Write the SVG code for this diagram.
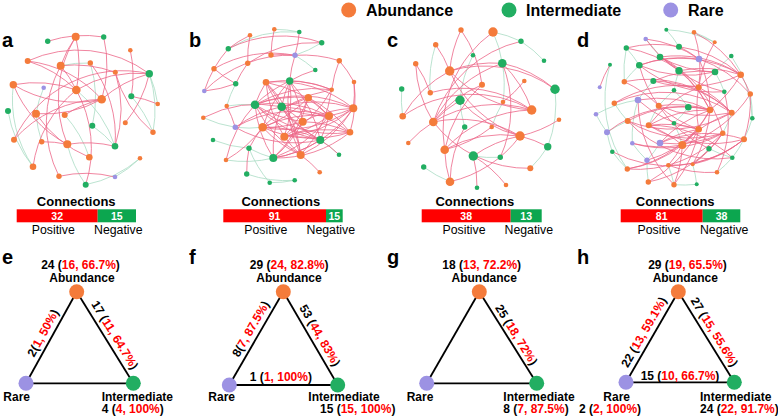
<svg xmlns="http://www.w3.org/2000/svg" width="778" height="418" viewBox="0 0 778 418">
<style>
.t{font-family:"Liberation Sans",Arial,sans-serif}
.b{font-weight:bold}
.pl{font-family:"Liberation Sans",Arial,sans-serif;font-weight:bold;font-size:20px}
.lg{font-family:"Liberation Sans",Arial,sans-serif;font-weight:bold;font-size:16px}
.cn{font-family:"Liberation Sans",Arial,sans-serif;font-weight:bold;font-size:13px}
.bn{font-family:"Liberation Sans",Arial,sans-serif;font-weight:bold;font-size:10.5px;fill:#fff}
.pn{font-family:"Liberation Sans",Arial,sans-serif;font-size:12.3px}
.tl{font-family:"Liberation Sans",Arial,sans-serif;font-weight:bold;font-size:12px}
.r{fill:#ff0000}
.pe path{fill:none;stroke:#ec6688;stroke-width:0.8}
.ne path{fill:none;stroke:#a9dcc4;stroke-width:0.8}
.tri line{stroke:#000;stroke-width:1.8}
.o{fill:#f47b3b}
.g{fill:#22ae62}
.p{fill:#9c92e3}
</style>
<rect width="778" height="418" fill="#fff"/>

<g id="legend">
<circle cx="348.7" cy="10" r="7.5" class="o"/><text x="366" y="15.7" class="lg">Abundance</text>
<circle cx="509" cy="10" r="7.5" class="g"/><text x="526" y="15.7" class="lg">Intermediate</text>
<circle cx="670.7" cy="10" r="7.5" class="p"/><text x="688" y="15.7" class="lg">Rare</text>
</g>

<g id="panel-labels">
<text x="2" y="47" class="pl">a</text>
<text x="189" y="47" class="pl">b</text>
<text x="387" y="47" class="pl">c</text>
<text x="577" y="47" class="pl">d</text>
<text x="2" y="263.5" class="pl">e</text>
<text x="189" y="263.5" class="pl">f</text>
<text x="387" y="263.5" class="pl">g</text>
<text x="577" y="263.5" class="pl">h</text>
</g>

<g id="connectors">
<g class="ne" id="a-neg">
<path d="M90.3 63A120 120 0 0 1 92.3 125.7"/><path d="M13.3 84.7A120 120 0 0 0 33 166.7"/><path d="M131.3 96.3A120 120 0 0 1 153 132.3"/><path d="M67.3 144.3A120 120 0 0 0 85.7 184.7"/><path d="M85.7 184.7A120 120 0 0 0 140 158.3"/><path d="M115 177A120 120 0 0 0 140 158.3"/><path d="M92.3 125.7A120 120 0 0 1 115 146.3"/><path d="M149.3 73.7A120 120 0 0 1 157.7 104"/><path d="M36 113.7A120 120 0 0 0 41.7 141.7"/><path d="M64.7 115A120 120 0 0 1 89.3 157.3"/><path d="M43.7 87.7A120 120 0 0 0 36 113.7"/><path d="M149.3 73.7A120 120 0 0 1 153 132.3"/><path d="M76.3 90A120 120 0 0 1 115 146.3"/><path d="M60.7 65.7A120 120 0 0 1 90.3 63"/><path d="M8 111A120 120 0 0 0 33 166.7"/>
</g>
<g class="pe" id="a-pos">
<path d="M47.7 41.3A120 120 0 0 1 103.7 37"/><path d="M75.7 36.7A120 120 0 0 0 60.7 65.7"/><path d="M75.7 36.7A120 120 0 0 1 76.3 90"/><path d="M75.7 36.7A120 120 0 0 0 67.3 144.3"/><path d="M27.7 61A120 120 0 0 1 149.3 73.7"/><path d="M27.7 61A120 120 0 0 1 101.7 99.3"/><path d="M60.7 65.7A120 120 0 0 1 115.3 72.3"/><path d="M13.3 84.7A120 120 0 0 1 76.3 90"/><path d="M13.3 84.7A120 120 0 0 0 101.7 99.3"/><path d="M13.3 84.7A120 120 0 0 0 67.3 144.3"/><path d="M76.3 90A120 120 0 0 1 149.3 73.7"/><path d="M101.7 99.3A120 120 0 0 1 149.3 73.7"/><path d="M101.7 99.3A120 120 0 0 1 36 113.7"/><path d="M14 139.7A120 120 0 0 1 101.7 99.3"/><path d="M130.3 50.3A120 120 0 0 1 131.3 96.3"/><path d="M115.3 72.3A120 120 0 0 0 153 132.3"/><path d="M115.3 72.3A120 120 0 0 1 115 146.3"/><path d="M60.7 65.7A120 120 0 0 0 59 176.3"/><path d="M76.3 90A120 120 0 0 0 33 166.7"/><path d="M36 113.7A120 120 0 0 0 89.3 157.3"/><path d="M41.7 141.7A120 120 0 0 1 67.3 144.3"/><path d="M59 176.3A120 120 0 0 1 115 177"/><path d="M131.3 96.3A120 120 0 0 1 157.7 104"/><path d="M14 139.7A120 120 0 0 1 149.3 73.7"/><path d="M64.7 115A120 120 0 0 1 101.7 99.3"/><path d="M90.3 63A120 120 0 0 1 115 146.3"/><path d="M60.7 65.7A120 120 0 0 1 76.3 90"/><path d="M76.3 90A120 120 0 0 1 85.7 184.7"/><path d="M27.7 61A120 120 0 0 1 76.3 90"/><path d="M103.7 37A120 120 0 0 1 101.7 99.3"/><path d="M125.3 122.7A120 120 0 0 0 149.3 73.7"/><path d="M67.3 144.3A120 120 0 0 1 115 146.3"/>
</g>

<g class="ne" id="b-neg">
<path d="M299.3 32A120 120 0 0 0 228.3 48.7"/><path d="M295 55.3A120 120 0 0 1 315.3 70"/><path d="M321.7 42.7A120 120 0 0 1 295 55.3"/><path d="M226.7 106A120 120 0 0 1 255 104.7"/><path d="M203.3 117.7A120 120 0 0 0 235.3 127.3"/><path d="M213 140A120 120 0 0 0 249 148.3"/><path d="M249 148.3A120 120 0 0 0 273.3 158"/><path d="M226 160A120 120 0 0 0 273.3 158"/><path d="M246.7 174A120 120 0 0 0 294.7 180.3"/><path d="M269.7 182.7A120 120 0 0 0 294.7 180.3"/><path d="M235.3 127.3A120 120 0 0 0 262.7 127.3"/><path d="M235.7 83.7A120 120 0 0 0 226.7 106"/><path d="M274.3 29.3A120 120 0 0 1 299.3 32"/><path d="M249 148.3A120 120 0 0 0 269.7 182.7"/><path d="M320.3 140A120 120 0 0 1 339 154.7"/>
</g>
<g class="pe" id="b-pos">
<path d="M250 35.3A120 120 0 0 0 247.7 63.3"/><path d="M228.3 48.7A120 120 0 0 0 214 68.7"/><path d="M228.3 48.7A120 120 0 0 1 321.7 42.7"/><path d="M214 68.7A120 120 0 0 1 295 55.3"/><path d="M247.7 63.3A120 120 0 0 1 321.7 42.7"/><path d="M271 55A120 120 0 0 1 295 55.3"/><path d="M295 55.3A120 120 0 0 1 339.3 60.7"/><path d="M295 55.3A120 120 0 0 0 289.7 81"/><path d="M339.3 60.7A120 120 0 0 1 354 82"/><path d="M339.3 60.7A120 120 0 0 0 331.7 89.7"/><path d="M214 68.7A120 120 0 0 0 204.3 91"/><path d="M235.7 83.7A120 120 0 0 1 204.3 91"/><path d="M247.7 63.3A120 120 0 0 0 235.7 83.7"/><path d="M274.3 29.3A120 120 0 0 0 271 55"/><path d="M204.3 91A120 120 0 0 1 295 55.3"/><path d="M266 82.3A120 120 0 0 0 255 104.7"/><path d="M315.3 70A120 120 0 0 0 289.7 81"/><path d="M299.3 32A120 120 0 0 1 295 55.3"/><path d="M214 68.7A120 120 0 0 0 235.7 83.7"/><path d="M250 35.3A120 120 0 0 0 228.3 48.7"/><path d="M266 82.3A120 120 0 0 1 331.7 89.7"/>
<path d="M266 82.3A120 120 0 0 1 281.7 106.7"/><path d="M266 82.3A120 120 0 0 1 329 116"/><path d="M266 82.3A120 120 0 0 1 353.3 108.3"/><path d="M266 82.3A120 120 0 0 0 284.3 136.7"/><path d="M289.7 81A120 120 0 0 0 255 104.7"/><path d="M289.7 81A120 120 0 0 0 281.7 106.7"/><path d="M289.7 81A120 120 0 0 1 302.7 121.7"/><path d="M289.7 81A120 120 0 0 1 284.3 136.7"/><path d="M289.7 81A120 120 0 0 1 320.3 140"/><path d="M289.7 81A120 120 0 0 0 300.7 155"/><path d="M289.7 81A120 120 0 0 0 262.7 127.3"/><path d="M308.3 97.7A120 120 0 0 0 255 104.7"/><path d="M308.3 97.7A120 120 0 0 1 281.7 106.7"/><path d="M308.3 97.7A120 120 0 0 1 262.7 127.3"/><path d="M308.3 97.7A120 120 0 0 1 350 132.3"/><path d="M308.3 97.7A120 120 0 0 1 284.3 136.7"/><path d="M308.3 97.7A120 120 0 0 1 273.3 158"/><path d="M255 104.7A120 120 0 0 1 353.3 108.3"/><path d="M255 104.7A120 120 0 0 1 329 116"/><path d="M255 104.7A120 120 0 0 0 302.7 121.7"/><path d="M255 104.7A120 120 0 0 0 350 132.3"/><path d="M255 104.7A120 120 0 0 0 320.3 140"/><path d="M255 104.7A120 120 0 0 0 300.7 155"/><path d="M281.7 106.7A120 120 0 0 1 353.3 108.3"/><path d="M281.7 106.7A120 120 0 0 0 329 116"/><path d="M281.7 106.7A120 120 0 0 1 350 132.3"/><path d="M281.7 106.7A120 120 0 0 0 320.3 140"/><path d="M281.7 106.7A120 120 0 0 1 300.7 155"/><path d="M281.7 106.7A120 120 0 0 0 273.3 158"/><path d="M353.3 108.3A120 120 0 0 1 262.7 127.3"/><path d="M353.3 108.3A120 120 0 0 1 284.3 136.7"/><path d="M353.3 108.3A120 120 0 0 0 302.7 121.7"/><path d="M353.3 108.3A120 120 0 0 1 300.7 155"/><path d="M353.3 108.3A120 120 0 0 1 273.3 158"/><path d="M329 116A120 120 0 0 0 262.7 127.3"/><path d="M329 116A120 120 0 0 1 284.3 136.7"/><path d="M329 116A120 120 0 0 1 273.3 158"/><path d="M329 116A120 120 0 0 1 320.3 140"/><path d="M302.7 121.7A120 120 0 0 1 262.7 127.3"/><path d="M302.7 121.7A120 120 0 0 1 273.3 158"/><path d="M302.7 121.7A120 120 0 0 1 350 132.3"/><path d="M262.7 127.3A120 120 0 0 0 350 132.3"/><path d="M262.7 127.3A120 120 0 0 1 320.3 140"/><path d="M262.7 127.3A120 120 0 0 0 300.7 155"/><path d="M350 132.3A120 120 0 0 0 284.3 136.7"/><path d="M350 132.3A120 120 0 0 1 273.3 158"/><path d="M284.3 136.7A120 120 0 0 1 320.3 140"/><path d="M284.3 136.7A120 120 0 0 0 300.7 155"/><path d="M320.3 140A120 120 0 0 1 273.3 158"/><path d="M331.7 89.7A120 120 0 0 0 262.7 127.3"/><path d="M331.7 89.7A120 120 0 0 0 255 104.7"/><path d="M331.7 89.7A120 120 0 0 1 284.3 136.7"/><path d="M331.7 89.7A120 120 0 0 1 300.7 155"/><path d="M235.3 127.3A120 120 0 0 1 281.7 106.7"/><path d="M235.3 127.3A120 120 0 0 1 329 116"/><path d="M235.3 127.3A120 120 0 0 0 320.3 140"/><path d="M266 82.3A120 120 0 0 1 300.7 155"/><path d="M266 82.3A120 120 0 0 0 320.3 140"/><path d="M255 104.7A120 120 0 0 0 273.3 158"/><path d="M354 82A120 120 0 0 1 353.3 108.3"/><path d="M289.7 81A120 120 0 0 1 331.7 89.7"/><path d="M308.3 97.7A120 120 0 0 1 329 116"/><path d="M281.7 106.7A120 120 0 0 1 302.7 121.7"/>
<path d="M226 160A120 120 0 0 0 262.7 127.3"/><path d="M249 148.3A120 120 0 0 1 262.7 127.3"/><path d="M246.7 174A120 120 0 0 1 249 148.3"/><path d="M226.7 106A120 120 0 0 1 235.3 127.3"/><path d="M319.7 172.3A120 120 0 0 0 300.7 155"/><path d="M354 82A120 120 0 0 1 350 132.3"/><path d="M339 154.7A120 120 0 0 0 320.3 140"/><path d="M353.3 108.3A120 120 0 0 1 329 116"/><path d="M226 160A120 120 0 0 1 255 104.7"/><path d="M203.3 117.7A120 120 0 0 1 281.7 106.7"/>
</g>

<g class="ne" id="c-neg">
<path d="M493 32A120 120 0 0 1 521 41.3"/><path d="M493 32A120 120 0 0 1 502.3 63.3"/><path d="M521 41.3A120 120 0 0 1 544 60.7"/><path d="M502.3 63.3A120 120 0 0 1 503 102"/><path d="M401.7 89A120 120 0 0 0 402.7 116.3"/><path d="M435.7 44.7A120 120 0 0 0 430.3 92.7"/><path d="M460 100.3A120 120 0 0 0 464.7 127"/><path d="M555 89.3A120 120 0 0 1 547.7 146.7"/><path d="M547.7 146.7A120 120 0 0 1 530.3 168.3"/><path d="M473.3 156A120 120 0 0 0 500.3 157.3"/><path d="M423.7 167A120 120 0 0 0 450 181.7"/><path d="M503 102A120 120 0 0 0 491.7 127"/><path d="M473 55.3A120 120 0 0 0 460 100.3"/>
</g>
<g class="pe" id="c-pos">
<path d="M461 30A120 120 0 0 0 449.7 71"/><path d="M435.7 44.7A120 120 0 0 1 449.7 71"/><path d="M415.7 63.7A120 120 0 0 1 430.3 92.7"/><path d="M415.7 63.7A120 120 0 0 0 433.3 122"/><path d="M449.7 71A120 120 0 0 1 502.3 63.3"/><path d="M449.7 71A120 120 0 0 1 555 89.3"/><path d="M449.7 71A120 120 0 0 0 531.7 110"/><path d="M449.7 71A120 120 0 0 0 520 136"/><path d="M502.3 63.3A120 120 0 0 1 555 89.3"/><path d="M502.3 63.3A120 120 0 0 0 433.3 122"/><path d="M502.3 63.3A120 120 0 0 1 531.7 110"/><path d="M493 32A120 120 0 0 0 444.7 149.7"/><path d="M482 84.7A120 120 0 0 0 444.7 149.7"/><path d="M482 84.7A120 120 0 0 0 433.3 122"/><path d="M430.3 92.7A120 120 0 0 1 531.7 110"/><path d="M402.7 116.3A120 120 0 0 1 531.7 110"/><path d="M402.7 116.3A120 120 0 0 1 449.7 71"/><path d="M433.3 122A120 120 0 0 1 531.7 110"/><path d="M433.3 122A120 120 0 0 1 520 136"/><path d="M433.3 122A120 120 0 0 0 530.3 168.3"/><path d="M433.3 122A120 120 0 0 1 460 100.3"/><path d="M491.7 127A120 120 0 0 1 444.7 149.7"/><path d="M444.7 149.7A120 120 0 0 1 520 136"/><path d="M444.7 149.7A120 120 0 0 0 450 181.7"/><path d="M473.3 156A120 120 0 0 1 520 136"/><path d="M473.3 156A120 120 0 0 1 477 187.7"/><path d="M520 136A120 120 0 0 1 547.7 146.7"/><path d="M520 136A120 120 0 0 0 559 119.7"/><path d="M450 181.7A120 120 0 0 0 520 136"/><path d="M450 181.7A120 120 0 0 1 464.7 127"/><path d="M500.3 157.3A120 120 0 0 0 502.3 63.3"/><path d="M521 41.3A120 120 0 0 0 433.3 122"/><path d="M460 100.3A120 120 0 0 0 520 136"/><path d="M408.3 143A120 120 0 0 1 433.3 122"/><path d="M506 185A120 120 0 0 0 473.3 156"/><path d="M444.7 149.7A120 120 0 0 1 531.7 110"/><path d="M503 102A120 120 0 0 0 524.3 81"/><path d="M461 30A120 120 0 0 1 482 84.7"/>
</g>

<g class="ne" id="d-neg">
<path d="M666.3 29.7A120 120 0 0 1 714.7 42.3"/><path d="M694 32.3A120 120 0 0 1 714.7 42.3"/><path d="M645.7 39A120 120 0 0 1 660 57"/><path d="M626.3 48A120 120 0 0 1 639.3 65.3"/><path d="M626.3 48A120 120 0 0 0 624.3 81.7"/><path d="M731.3 56A120 120 0 0 0 715 72"/><path d="M731.3 56A120 120 0 0 1 752.3 118.3"/><path d="M715 72A120 120 0 0 1 724.3 91.7"/><path d="M674 90.3A120 120 0 0 0 658.7 105.7"/><path d="M674 90.3A120 120 0 0 1 688.3 107.3"/><path d="M688.3 107.3A120 120 0 0 1 674 123.3"/><path d="M638 100A120 120 0 0 0 596 114.3"/><path d="M638 100A120 120 0 0 0 632.3 143.3"/><path d="M596 114.3A120 120 0 0 0 607 132.3"/><path d="M607 132.3A120 120 0 0 0 612.3 151.7"/><path d="M612.3 151.7A120 120 0 0 0 627.3 169"/><path d="M632.3 143.3A120 120 0 0 0 647 160.3"/><path d="M647 160.3A120 120 0 0 0 648.3 182"/><path d="M668.3 165.3A120 120 0 0 1 674 184.7"/><path d="M674 184.7A120 120 0 0 0 696.7 184.3"/><path d="M696.7 184.3A120 120 0 0 0 692.7 164.3"/><path d="M709 148.7A120 120 0 0 0 732.3 157.7"/><path d="M732.3 157.7A120 120 0 0 1 717 172.3"/><path d="M674 123.3A120 120 0 0 1 682.3 145"/><path d="M752.3 118.3A120 120 0 0 1 744 139.3"/><path d="M750.3 94A120 120 0 0 1 752.3 118.3"/><path d="M658.7 105.7A120 120 0 0 0 648.7 125.3"/><path d="M653.3 81A120 120 0 0 0 638 100"/><path d="M639.3 65.3A120 120 0 0 0 624.3 81.7"/><path d="M614.3 103.3A120 120 0 0 0 627.7 121"/><path d="M660 143A120 120 0 0 1 647 160.3"/><path d="M709 148.7A120 120 0 0 1 692.7 164.3"/><path d="M666.3 29.7A120 120 0 0 1 679 46.7"/><path d="M627.7 121A120 120 0 0 0 607 132.3"/><path d="M744 139.3A120 120 0 0 1 732.3 157.7"/><path d="M731.7 112.7A120 120 0 0 1 722.7 133.3"/><path d="M679 70.7A120 120 0 0 0 674 90.3"/><path d="M610 64.7A120 120 0 0 0 627.3 169"/>
</g>
<g class="pe" id="d-pos">
<path d="M639.3 65.3A120 120 0 0 1 740.7 74.7"/><path d="M660 57A120 120 0 0 1 740.7 74.7"/><path d="M679 70.7A120 120 0 0 1 740.7 74.7"/><path d="M679 46.7A120 120 0 0 1 740.7 74.7"/><path d="M639.3 65.3A120 120 0 0 1 699 59"/><path d="M660 57A120 120 0 0 0 715 72"/><path d="M626.3 48A120 120 0 0 1 679 70.7"/><path d="M645.7 39A120 120 0 0 1 699 59"/><path d="M679 46.7A120 120 0 0 1 699 59"/><path d="M639.3 65.3A120 120 0 0 0 715 72"/><path d="M653.3 81A120 120 0 0 0 740.7 74.7"/><path d="M679 70.7A120 120 0 0 0 724.3 91.7"/><path d="M699 59A120 120 0 0 1 750.3 94"/><path d="M660 57A120 120 0 0 1 698.7 87.3"/><path d="M694 32.3A120 120 0 0 1 698.7 87.3"/><path d="M714.7 42.3A120 120 0 0 0 698.7 87.3"/><path d="M639.3 65.3A120 120 0 0 0 724.3 91.7"/><path d="M653.3 81A120 120 0 0 1 715 72"/><path d="M626.3 48A120 120 0 0 1 679 46.7"/><path d="M645.7 39A120 120 0 0 0 679 70.7"/><path d="M679 70.7A120 120 0 0 1 710 110"/><path d="M699 59A120 120 0 0 1 710 110"/><path d="M698.7 87.3A120 120 0 0 0 698.7 129.3"/><path d="M698.7 87.3A120 120 0 0 1 731.7 112.7"/><path d="M698.7 87.3A120 120 0 0 1 722.7 133.3"/><path d="M698.7 87.3A120 120 0 0 0 648.7 125.3"/><path d="M740.7 74.7A120 120 0 0 1 710 110"/><path d="M715 72A120 120 0 0 0 698.7 87.3"/><path d="M658.7 105.7A120 120 0 0 1 710 110"/><path d="M658.7 105.7A120 120 0 0 0 731.7 112.7"/><path d="M658.7 105.7A120 120 0 0 0 698.7 129.3"/><path d="M627.7 121A120 120 0 0 1 710 110"/><path d="M627.7 121A120 120 0 0 0 731.7 112.7"/><path d="M627.7 121A120 120 0 0 0 722.7 133.3"/><path d="M648.7 125.3A120 120 0 0 1 710 110"/><path d="M648.7 125.3A120 120 0 0 0 744 139.3"/><path d="M648.7 125.3A120 120 0 0 1 698.7 129.3"/><path d="M638 100A120 120 0 0 1 710 110"/><path d="M638 100A120 120 0 0 0 698.7 129.3"/><path d="M614.3 103.3A120 120 0 0 1 731.7 112.7"/><path d="M614.3 103.3A120 120 0 0 1 698.7 87.3"/><path d="M660 143A120 120 0 0 1 710 110"/><path d="M660 143A120 120 0 0 1 698.7 129.3"/><path d="M660 143A120 120 0 0 0 722.7 133.3"/><path d="M660 143A120 120 0 0 1 744 139.3"/><path d="M682.3 145A120 120 0 0 0 710 110"/><path d="M682.3 145A120 120 0 0 1 731.7 112.7"/><path d="M682.3 145A120 120 0 0 0 750.3 94"/><path d="M682.3 145A120 120 0 0 1 674 184.7"/><path d="M682.3 145A120 120 0 0 0 648.7 125.3"/><path d="M668.3 165.3A120 120 0 0 0 682.3 145"/><path d="M698.7 129.3A120 120 0 0 1 674 184.7"/><path d="M698.7 129.3A120 120 0 0 1 648.3 182"/><path d="M710 110A120 120 0 0 1 692.7 164.3"/><path d="M722.7 133.3A120 120 0 0 1 627.3 169"/><path d="M744 139.3A120 120 0 0 1 692.7 164.3"/><path d="M709 148.7A120 120 0 0 1 658.7 105.7"/><path d="M607 132.3A120 120 0 0 1 710 110"/><path d="M632.3 143.3A120 120 0 0 0 722.7 133.3"/><path d="M632.3 143.3A120 120 0 0 0 682.3 145"/><path d="M647 160.3A120 120 0 0 0 698.7 129.3"/><path d="M627.3 169A120 120 0 0 0 710 110"/><path d="M627.3 169A120 120 0 0 0 682.3 145"/><path d="M648.3 182A120 120 0 0 0 722.7 133.3"/><path d="M668.3 165.3A120 120 0 0 0 717 172.3"/><path d="M612.3 151.7A120 120 0 0 0 744 139.3"/><path d="M599.7 87.3A120 120 0 0 1 610 64.7"/><path d="M624.3 81.7A120 120 0 0 1 658.7 105.7"/><path d="M624.3 81.7A120 120 0 0 1 731.7 112.7"/><path d="M638 100A120 120 0 0 0 674 184.7"/><path d="M627.7 121A120 120 0 0 0 732.3 157.7"/><path d="M648.7 125.3A120 120 0 0 1 732.3 157.7"/><path d="M750.3 94A120 120 0 0 1 744 139.3"/><path d="M724.3 91.7A120 120 0 0 1 717 172.3"/><path d="M740.7 74.7A120 120 0 0 1 750.3 94"/><path d="M694 32.3A120 120 0 0 1 740.7 74.7"/><path d="M660 57A120 120 0 0 1 710 110"/><path d="M653.3 81A120 120 0 0 1 731.7 112.7"/><path d="M639.3 65.3A120 120 0 0 0 658.7 105.7"/><path d="M692.7 164.3A120 120 0 0 0 722.7 133.3"/><path d="M668.3 165.3A120 120 0 0 0 744 139.3"/>
</g>

<g class="tri" id="tri-edges">
<line x1="26" y1="383.3" x2="76.7" y2="291.7"/><line x1="76.7" y1="291.7" x2="133.3" y2="383.3"/><line x1="26" y1="383.3" x2="133.3" y2="383.3"/>
<line x1="229.3" y1="385" x2="283.3" y2="291.7"/><line x1="283.3" y1="291.7" x2="337.7" y2="385"/><line x1="229.3" y1="385" x2="337.7" y2="385"/>
<line x1="426.7" y1="383.3" x2="479.3" y2="291.7"/><line x1="479.3" y1="291.7" x2="536.7" y2="383.3"/><line x1="426.7" y1="383.3" x2="536.7" y2="383.3"/>
<line x1="626" y1="382.3" x2="678.3" y2="291.7"/><line x1="678.3" y1="291.7" x2="734.3" y2="382.3"/><line x1="626" y1="382.3" x2="734.3" y2="382.3"/>
</g>
</g>

<g id="net-a-nodes">
<circle id="a1" cx="75.7" cy="36.7" r="4" class="o"/><circle id="a2" cx="47.7" cy="41.3" r="2.7" class="g"/><circle id="a3" cx="103.7" cy="37" r="2.7" class="g"/><circle id="a4" cx="130.3" cy="50.3" r="2.3" class="o"/><circle id="a5" cx="27.7" cy="61" r="3" class="o"/><circle id="a6" cx="60.7" cy="65.7" r="4" class="o"/><circle id="a7" cx="90.3" cy="63" r="2.7" class="o"/><circle id="a8" cx="115.3" cy="72.3" r="2.5" class="o"/><circle id="a9" cx="149.3" cy="73.7" r="3.7" class="g"/><circle id="a10" cx="13.3" cy="84.7" r="3.7" class="o"/><circle id="a11" cx="43.7" cy="87.7" r="2.3" class="p"/><circle id="a12" cx="76.3" cy="90" r="4.3" class="o"/><circle id="a13" cx="101.7" cy="99.3" r="4.3" class="o"/><circle id="a14" cx="131.3" cy="96.3" r="3" class="g"/><circle id="a15" cx="157.7" cy="104" r="2.3" class="o"/><circle id="a16" cx="8" cy="111" r="3" class="g"/><circle id="a17" cx="36" cy="113.7" r="4" class="o"/><circle id="a18" cx="64.7" cy="115" r="3" class="o"/><circle id="a19" cx="92.3" cy="125.7" r="3" class="g"/><circle id="a20" cx="125.3" cy="122.7" r="2.5" class="o"/><circle id="a21" cx="153" cy="132.3" r="2.7" class="o"/><circle id="a22" cx="14" cy="139.7" r="3" class="o"/><circle id="a23" cx="41.7" cy="141.7" r="2.7" class="o"/><circle id="a24" cx="67.3" cy="144.3" r="4" class="o"/><circle id="a25" cx="115" cy="146.3" r="3.3" class="g"/><circle id="a26" cx="89.3" cy="157.3" r="3.3" class="o"/><circle id="a27" cx="140" cy="158.3" r="2.3" class="o"/><circle id="a28" cx="33" cy="166.7" r="3.3" class="o"/><circle id="a29" cx="59" cy="176.3" r="2.7" class="o"/><circle id="a30" cx="115" cy="177" r="2.3" class="p"/><circle id="a31" cx="85.7" cy="184.7" r="3" class="g"/>
</g>

<g id="net-b-nodes">
<circle id="b1" cx="274.3" cy="29.3" r="2.3" class="o"/><circle id="b2" cx="250" cy="35.3" r="2.3" class="o"/><circle id="b3" cx="299.3" cy="32" r="2.3" class="g"/><circle id="b4" cx="321.7" cy="42.7" r="2.7" class="g"/><circle id="b5" cx="228.3" cy="48.7" r="2.7" class="g"/><circle id="b6" cx="271" cy="55" r="2.7" class="o"/><circle id="b7" cx="295" cy="55.3" r="2.7" class="p"/><circle id="b8" cx="247.7" cy="63.3" r="2.7" class="o"/><circle id="b9" cx="339.3" cy="60.7" r="2.7" class="o"/><circle id="b10" cx="214" cy="68.7" r="2.7" class="o"/><circle id="b11" cx="315.3" cy="70" r="2.3" class="g"/><circle id="b12" cx="354" cy="82" r="2.3" class="o"/><circle id="b13" cx="266" cy="82.3" r="3.3" class="o"/><circle id="b14" cx="289.7" cy="81" r="3.7" class="g"/><circle id="b15" cx="235.7" cy="83.7" r="2.7" class="g"/><circle id="b16" cx="204.3" cy="91" r="2.3" class="p"/><circle id="b17" cx="331.7" cy="89.7" r="2.3" class="o"/><circle id="b18" cx="308.3" cy="97.7" r="3.7" class="o"/><circle id="b19" cx="255" cy="104.7" r="4.3" class="g"/><circle id="b20" cx="281.7" cy="106.7" r="4.3" class="g"/><circle id="b21" cx="226.7" cy="106" r="2.3" class="o"/><circle id="b22" cx="353.3" cy="108.3" r="4" class="o"/><circle id="b23" cx="203.3" cy="117.7" r="2.3" class="o"/><circle id="b24" cx="329" cy="116" r="4" class="o"/><circle id="b25" cx="302.7" cy="121.7" r="4" class="o"/><circle id="b26" cx="235.3" cy="127.3" r="2.7" class="p"/><circle id="b27" cx="262.7" cy="127.3" r="4.3" class="o"/><circle id="b28" cx="350" cy="132.3" r="3.3" class="o"/><circle id="b29" cx="284.3" cy="136.7" r="4" class="o"/><circle id="b30" cx="213" cy="140" r="2.3" class="g"/><circle id="b31" cx="320.3" cy="140" r="4" class="g"/><circle id="b32" cx="249" cy="148.3" r="2.7" class="g"/><circle id="b33" cx="300.7" cy="155" r="4" class="o"/><circle id="b34" cx="339" cy="154.7" r="2.3" class="g"/><circle id="b35" cx="273.3" cy="158" r="4" class="g"/><circle id="b36" cx="226" cy="160" r="2.3" class="o"/><circle id="b37" cx="319.7" cy="172.3" r="2.3" class="o"/><circle id="b38" cx="246.7" cy="174" r="2.7" class="g"/><circle id="b39" cx="294.7" cy="180.3" r="2.3" class="g"/><circle id="b40" cx="269.7" cy="182.7" r="2.3" class="g"/>
</g>

<g id="net-c-nodes">
<circle id="c1" cx="461" cy="30" r="2.7" class="o"/><circle id="c2" cx="493" cy="32" r="4.7" class="o"/><circle id="c3" cx="435.7" cy="44.7" r="2.7" class="o"/><circle id="c4" cx="521" cy="41.3" r="2.7" class="g"/><circle id="c5" cx="473" cy="55.3" r="2.3" class="g"/><circle id="c6" cx="544" cy="60.7" r="2.3" class="g"/><circle id="c7" cx="415.7" cy="63.7" r="2.7" class="o"/><circle id="c8" cx="502.3" cy="63.3" r="4.3" class="g"/><circle id="c9" cx="449.7" cy="71" r="4.7" class="o"/><circle id="c10" cx="524.3" cy="81" r="2.3" class="o"/><circle id="c11" cx="482" cy="84.7" r="3" class="o"/><circle id="c12" cx="401.7" cy="89" r="2.7" class="g"/><circle id="c13" cx="555" cy="89.3" r="4.7" class="g"/><circle id="c14" cx="430.3" cy="92.7" r="2.7" class="o"/><circle id="c15" cx="460" cy="100.3" r="4.7" class="g"/><circle id="c16" cx="503" cy="102" r="2.3" class="o"/><circle id="c17" cx="531.7" cy="110" r="4.7" class="o"/><circle id="c18" cx="402.7" cy="116.3" r="3.3" class="o"/><circle id="c19" cx="559" cy="119.7" r="2.3" class="o"/><circle id="c20" cx="433.3" cy="122" r="4.3" class="o"/><circle id="c21" cx="464.7" cy="127" r="2.7" class="g"/><circle id="c22" cx="491.7" cy="127" r="2.3" class="o"/><circle id="c23" cx="520" cy="136" r="4.7" class="o"/><circle id="c24" cx="408.3" cy="143" r="2.3" class="o"/><circle id="c25" cx="547.7" cy="146.7" r="3.7" class="g"/><circle id="c26" cx="444.7" cy="149.7" r="4.3" class="o"/><circle id="c27" cx="473.3" cy="156" r="4.7" class="g"/><circle id="c28" cx="500.3" cy="157.3" r="2.7" class="g"/><circle id="c29" cx="423.7" cy="167" r="2.7" class="g"/><circle id="c30" cx="530.3" cy="168.3" r="3" class="o"/><circle id="c31" cx="450" cy="181.7" r="4.3" class="o"/><circle id="c32" cx="506" cy="185" r="2.3" class="o"/><circle id="c33" cx="477" cy="187.7" r="2.3" class="g"/>
</g>

<g id="net-d-nodes">
<circle id="d1" cx="666.3" cy="29.7" r="2" class="g"/><circle id="d2" cx="694" cy="32.3" r="2.3" class="o"/><circle id="d3" cx="645.7" cy="39" r="2.3" class="p"/><circle id="d4" cx="714.7" cy="42.3" r="2" class="o"/><circle id="d5" cx="626.3" cy="48" r="2.7" class="g"/><circle id="d6" cx="679" cy="46.7" r="3" class="g"/><circle id="d7" cx="731.3" cy="56" r="2.3" class="g"/><circle id="d8" cx="660" cy="57" r="3.3" class="g"/><circle id="d9" cx="699" cy="59" r="3.3" class="p"/><circle id="d10" cx="610" cy="64.7" r="2" class="g"/><circle id="d11" cx="639.3" cy="65.3" r="3.3" class="g"/><circle id="d12" cx="679" cy="70.7" r="3.7" class="g"/><circle id="d13" cx="715" cy="72" r="3.3" class="g"/><circle id="d14" cx="740.7" cy="74.7" r="3.3" class="o"/><circle id="d15" cx="653.3" cy="81" r="3" class="g"/><circle id="d16" cx="624.3" cy="81.7" r="2.7" class="o"/><circle id="d17" cx="599.7" cy="87.3" r="2" class="p"/><circle id="d18" cx="698.7" cy="87.3" r="3" class="o"/><circle id="d19" cx="674" cy="90.3" r="2.3" class="g"/><circle id="d20" cx="724.3" cy="91.7" r="2.3" class="g"/><circle id="d21" cx="750.3" cy="94" r="2.7" class="o"/><circle id="d22" cx="638" cy="100" r="3.3" class="p"/><circle id="d23" cx="614.3" cy="103.3" r="2.7" class="o"/><circle id="d24" cx="658.7" cy="105.7" r="3" class="o"/><circle id="d25" cx="688.3" cy="107.3" r="3.3" class="g"/><circle id="d26" cx="710" cy="110" r="3.3" class="o"/><circle id="d27" cx="731.7" cy="112.7" r="3" class="o"/><circle id="d28" cx="596" cy="114.3" r="2.3" class="p"/><circle id="d29" cx="752.3" cy="118.3" r="2.3" class="g"/><circle id="d30" cx="627.7" cy="121" r="3" class="o"/><circle id="d31" cx="648.7" cy="125.3" r="3" class="o"/><circle id="d32" cx="674" cy="123.3" r="2.3" class="g"/><circle id="d33" cx="698.7" cy="129.3" r="3.3" class="o"/><circle id="d34" cx="722.7" cy="133.3" r="2.7" class="o"/><circle id="d35" cx="607" cy="132.3" r="3" class="p"/><circle id="d36" cx="744" cy="139.3" r="3" class="o"/><circle id="d37" cx="632.3" cy="143.3" r="2.3" class="p"/><circle id="d38" cx="660" cy="143" r="3.3" class="p"/><circle id="d39" cx="682.3" cy="145" r="4" class="o"/><circle id="d40" cx="709" cy="148.7" r="2.7" class="g"/><circle id="d41" cx="612.3" cy="151.7" r="2.3" class="g"/><circle id="d42" cx="732.3" cy="157.7" r="2.3" class="g"/><circle id="d43" cx="647" cy="160.3" r="2.7" class="p"/><circle id="d44" cx="668.3" cy="165.3" r="2.3" class="o"/><circle id="d45" cx="692.7" cy="164.3" r="2" class="o"/><circle id="d46" cx="627.3" cy="169" r="2.7" class="o"/><circle id="d47" cx="717" cy="172.3" r="2.3" class="o"/><circle id="d48" cx="648.3" cy="182" r="2.7" class="o"/><circle id="d49" cx="674" cy="184.7" r="2.7" class="o"/><circle id="d50" cx="696.7" cy="184.3" r="2" class="g"/>
</g>

<g id="bar-a">
<text x="76.2" y="206" class="cn" text-anchor="middle">Connections</text>
<rect x="16.7" y="209.3" width="81" height="13" fill="#ff0000"/><rect x="97.7" y="209.3" width="38.3" height="13" fill="#0ca64f"/>
<text x="57.2" y="219.5" class="bn" text-anchor="middle">32</text><text x="116.8" y="219.5" class="bn" text-anchor="middle">15</text>
<text x="53.3" y="234" class="pn" text-anchor="middle">Positive</text><text x="118.3" y="234" class="pn" text-anchor="middle">Negative</text>
</g>
<g id="bar-b">
<text x="280.8" y="206" class="cn" text-anchor="middle">Connections</text>
<rect x="223.3" y="209.3" width="102.7" height="13" fill="#ff0000"/><rect x="326" y="209.3" width="16.7" height="13" fill="#0ca64f"/>
<text x="274.6" y="219.5" class="bn" text-anchor="middle">91</text><text x="334.3" y="219.5" class="bn" text-anchor="middle">15</text>
<text x="265.8" y="234" class="pn" text-anchor="middle">Positive</text><text x="330.8" y="234" class="pn" text-anchor="middle">Negative</text>
</g>
<g id="bar-c">
<text x="474.8" y="206" class="cn" text-anchor="middle">Connections</text>
<rect x="421.7" y="209.3" width="89" height="13" fill="#ff0000"/><rect x="510.7" y="209.3" width="31" height="13" fill="#0ca64f"/>
<text x="466.2" y="219.5" class="bn" text-anchor="middle">38</text><text x="526.2" y="219.5" class="bn" text-anchor="middle">13</text>
<text x="464" y="234" class="pn" text-anchor="middle">Positive</text><text x="528.8" y="234" class="pn" text-anchor="middle">Negative</text>
</g>
<g id="bar-d">
<text x="675.2" y="206" class="cn" text-anchor="middle">Connections</text>
<rect x="620.7" y="209.3" width="82" height="13" fill="#ff0000"/><rect x="702.7" y="209.3" width="37.6" height="13" fill="#0ca64f"/>
<text x="661.7" y="219.5" class="bn" text-anchor="middle">81</text><text x="721.5" y="219.5" class="bn" text-anchor="middle">38</text>
<text x="659" y="234" class="pn" text-anchor="middle">Positive</text><text x="724.2" y="234" class="pn" text-anchor="middle">Negative</text>
</g>

<g id="e-abundance"><circle cx="76.7" cy="291.7" r="7.5" class="o"/><text x="80.5" y="269" class="tl" text-anchor="middle">24 (<tspan class="r">16, 66.7%</tspan>)</text><text x="82" y="282" class="tl" text-anchor="middle">Abundance</text></g>
<g id="e-rare"><circle cx="26" cy="383.3" r="7.5" class="p"/><text x="3.3" y="400.7" class="tl">Rare</text></g>
<g id="e-intermediate"><circle cx="133.3" cy="383.3" r="7.5" class="g"/><text x="101.7" y="400.7" class="tl">Intermediate</text><text x="101.7" y="413.3" class="tl">4 (<tspan class="r">4, 100%</tspan>)</text></g>
<g id="e-edge-labels">
<text transform="translate(46.6 334.9) rotate(-61.04)" class="tl" text-anchor="middle">2(<tspan class="r">1, 50%</tspan>)</text>
<text transform="translate(111.4 337.3) rotate(58.29)" class="tl" text-anchor="middle">17 (<tspan class="r">11, 64.7%</tspan>)</text>
</g>

<g id="f-abundance"><circle cx="283.3" cy="291.7" r="7.5" class="o"/><text x="289.2" y="269" class="tl" text-anchor="middle">29 (<tspan class="r">24, 82.8%</tspan>)</text><text x="289" y="282" class="tl" text-anchor="middle">Abundance</text></g>
<g id="f-rare"><circle cx="229.3" cy="385" r="7.5" class="p"/><text x="208.3" y="400.7" class="tl">Rare</text></g>
<g id="f-intermediate"><circle cx="337.7" cy="385" r="7.5" class="g"/><text x="308.3" y="400.7" class="tl">Intermediate</text><text x="320" y="413.3" class="tl">15 (<tspan class="r">15, 100%</tspan>)</text></g>
<g id="f-edge-labels">
<text transform="translate(254.2 330.9) rotate(-59.94)" class="tl" text-anchor="middle">8(<tspan class="r">7, 87.5%</tspan>)</text>
<text transform="translate(316.4 337.4) rotate(59.75)" class="tl" text-anchor="middle">53 (<tspan class="r">44, 83%</tspan>)</text>
<text x="280.9" y="380.5" class="tl" text-anchor="middle">1 (<tspan class="r">1, 100%</tspan>)</text>
</g>

<g id="g-abundance"><circle cx="479.3" cy="291.7" r="7.5" class="o"/><text x="481.7" y="269" class="tl" text-anchor="middle">18 (<tspan class="r">13, 72.2%</tspan>)</text><text x="484.2" y="282" class="tl" text-anchor="middle">Abundance</text></g>
<g id="g-rare"><circle cx="426.7" cy="383.3" r="7.5" class="p"/><text x="406.7" y="400.7" class="tl">Rare</text></g>
<g id="g-intermediate"><circle cx="536.7" cy="383.3" r="7.5" class="g"/><text x="503.3" y="400.7" class="tl">Intermediate</text><text x="503.3" y="413.3" class="tl">8 (<tspan class="r">7, 87.5%</tspan>)</text></g>
<g id="g-edge-labels">
<text transform="translate(512.9 336.9) rotate(57.93)" class="tl" text-anchor="middle">25 (<tspan class="r">18, 72%</tspan>)</text>
</g>

<g id="h-abundance"><circle cx="678.3" cy="291.7" r="7.5" class="o"/><text x="687.5" y="269" class="tl" text-anchor="middle">29 (<tspan class="r">19, 65.5%</tspan>)</text><text x="685.3" y="282" class="tl" text-anchor="middle">Abundance</text></g>
<g id="h-rare"><circle cx="626" cy="382.3" r="7.5" class="p"/><text x="603.3" y="400.7" class="tl">Rare</text><text x="579" y="413.3" class="tl">2 (<tspan class="r">2, 100%</tspan>)</text></g>
<g id="h-intermediate"><circle cx="734.3" cy="382.3" r="7.5" class="g"/><text x="700" y="400.7" class="tl">Intermediate</text><text x="700" y="413.3" class="tl">24 (<tspan class="r">22, 91.7%</tspan>)</text></g>
<g id="h-edge-labels">
<text transform="translate(647.4 334.2) rotate(-60)" class="tl" text-anchor="middle">22 (<tspan class="r">13, 59.1%</tspan>)</text>
<text transform="translate(711 334.1) rotate(58.28)" class="tl" text-anchor="middle">27 (<tspan class="r">15, 55.6%</tspan>)</text>
<text x="680" y="379.5" class="tl" text-anchor="middle">15 (<tspan class="r">10, 66.7%</tspan>)</text>
</g>
</svg>
